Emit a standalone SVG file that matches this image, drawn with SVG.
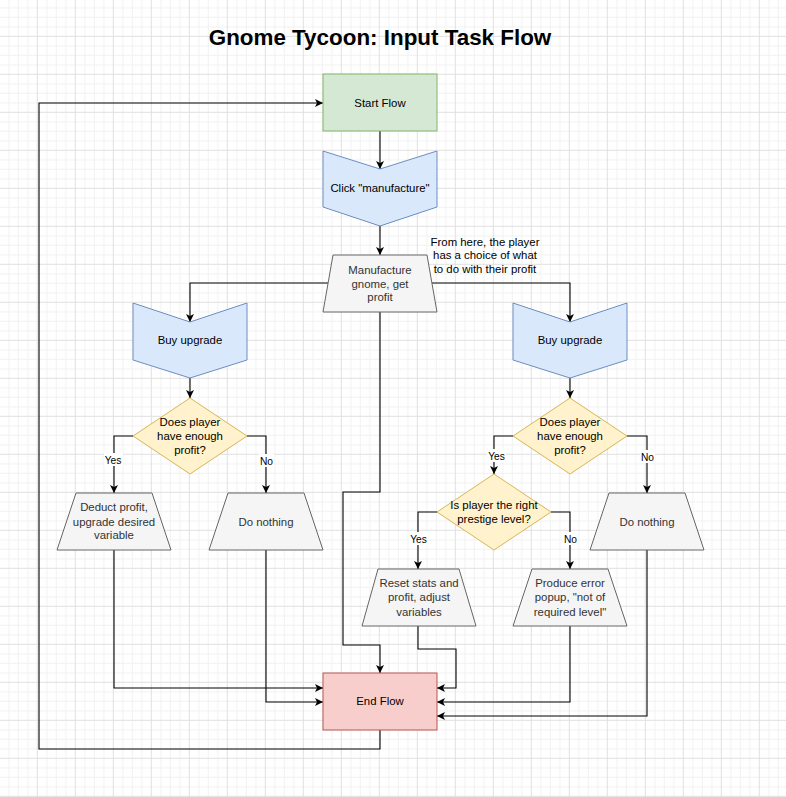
<svg xmlns="http://www.w3.org/2000/svg" width="786" height="797" viewBox="0 0 786 797">
<defs>
<pattern id="grid" patternUnits="userSpaceOnUse" x="36.8" y="35.8" width="38" height="38">
<rect x="9.5" y="0" width="1" height="38" fill="#f1f1f1"/>
<rect x="19" y="0" width="1" height="38" fill="#f1f1f1"/>
<rect x="28.5" y="0" width="1" height="38" fill="#f1f1f1"/>
<rect x="0" y="9.5" width="38" height="1" fill="#f1f1f1"/>
<rect x="0" y="19" width="38" height="1" fill="#f1f1f1"/>
<rect x="0" y="28.5" width="38" height="1" fill="#f1f1f1"/>
<rect x="0" y="0" width="1" height="38" fill="#e0e0e0"/>
<rect x="0" y="0" width="38" height="1" fill="#e0e0e0"/>
</pattern>
<marker id="arr" markerUnits="userSpaceOnUse" markerWidth="10" markerHeight="10" refX="8" refY="4" orient="auto">
<path d="M0,0 L8,4 L0,8 L2,4 Z" fill="#000"/>
</marker>
</defs>
<style>
.t{font-family:"Liberation Sans",Arial,sans-serif;font-size:11.4px;text-anchor:middle;fill:#000}
.g{fill:#333333}
.lbl{font-family:"Liberation Sans",Arial,sans-serif;font-size:10.2px;text-anchor:middle;fill:#000}
.start{fill:#d5e8d4;stroke:#82b366;stroke-width:1}
.blue{fill:#dae8fc;stroke:#6c8ebf;stroke-width:1}
.gray{fill:#f5f5f5;stroke:#666666;stroke-width:1}
.dia{fill:#fff2cc;stroke:#d6b656;stroke-width:1}
.end{fill:#f8cecc;stroke:#b85450;stroke-width:1}
.e{fill:none;stroke:#000;stroke-width:1.1;marker-end:url(#arr)}
</style>
<rect width="786" height="797" fill="#fff"/>
<rect width="786" height="797" fill="url(#grid)"/>
<text x="380" y="45" style="font-family:'Liberation Sans',Arial,sans-serif;font-size:22.4px;font-weight:bold;text-anchor:middle">Gnome Tycoon: Input Task Flow</text>

<g id="connectors">
<path class="e" d="M380 131 V169"/>
<path class="e" d="M380 226 V255"/>
<path class="e" d="M328 283 H190 V322"/>
<path class="e" d="M432 283 H570 V322"/>
<path class="e" d="M380 312 V492 H343 V645 H380 V673"/>
<path class="e" d="M190 378 V398"/>
<path class="e" d="M570 378 V398"/>
<path class="e" d="M133 436 H114 V493"/>
<path class="e" d="M247 436 H266 V493"/>
<path class="e" d="M513 436 H494 V474"/>
<path class="e" d="M627 436 H647 V493"/>
<path class="e" d="M437 512 H418 V569"/>
<path class="e" d="M551 512 H570 V569"/>
<path class="e" d="M114 550 V688 H323"/>
<path class="e" d="M266 550 V702 H323"/>
<path class="e" d="M418 626 V649 H456 V688 H437"/>
<path class="e" d="M570 626 V702 H437"/>
<path class="e" d="M647 550 V716 H437"/>
<path class="e" d="M380 730 V749 H39 V103 H323"/>
<g id="edge-labels">
<rect x="104" y="453" width="19" height="13" fill="#fff"/>
<text class="lbl" x="113" y="463.5">Yes</text>
<rect x="259" y="454" width="15" height="13" fill="#fff"/>
<text class="lbl" x="266.5" y="464.5">No</text>
<rect x="487" y="449" width="19" height="13" fill="#fff"/>
<text class="lbl" x="496.5" y="459.5">Yes</text>
<rect x="640" y="450" width="15" height="13" fill="#fff"/>
<text class="lbl" x="647.5" y="460.5">No</text>
<rect x="409" y="532" width="19" height="13" fill="#fff"/>
<text class="lbl" x="418.5" y="542.5">Yes</text>
<rect x="563" y="532" width="15" height="13" fill="#fff"/>
<text class="lbl" x="570.5" y="542.5">No</text>
</g>
</g>

<g id="start">
<rect class="start" x="323" y="74" width="114" height="57"/>
<text class="t" x="380" y="107">Start Flow</text>
</g>
<g id="click">
<polygon class="blue" points="323,151 380,169 437,151 437,207 380,226 323,207"/>
<text class="t" x="380" y="192">Click "manufacture"</text>
</g>
<g id="manufacture">
<polygon class="gray" points="333,255 427,255 437,312 323,312"/>
<text class="t g" x="380" y="274">Manufacture</text>
<text class="t g" x="380" y="287.7">gnome, get</text>
<text class="t g" x="380" y="301.4">profit</text>
</g>
<g id="note">
<text class="t" x="485" y="245.5">From here, the player</text>
<text class="t" x="485" y="259.2">has a choice of what</text>
<text class="t" x="485" y="272.9">to do with their profit</text>
</g>
<g id="buy-left">
<polygon class="blue" points="133,303 190,322 247,303 247,360 190,378 133,360"/>
<text class="t" x="190" y="344">Buy upgrade</text>
</g>
<g id="buy-right">
<polygon class="blue" points="513,303 570,322 627,303 627,360 570,378 513,360"/>
<text class="t" x="570" y="344">Buy upgrade</text>
</g>
<g id="check-left">
<polygon class="dia" points="190,398 247,436 190,474 133,436"/>
<text class="t" x="190" y="426.3">Does player</text>
<text class="t" x="190" y="440">have enough</text>
<text class="t" x="190" y="453.7">profit?</text>
</g>
<g id="check-right">
<polygon class="dia" points="570,398 627,436 570,474 513,436"/>
<text class="t" x="570" y="426.3">Does player</text>
<text class="t" x="570" y="440">have enough</text>
<text class="t" x="570" y="453.7">profit?</text>
</g>
<g id="prestige">
<polygon class="dia" points="494,474 551,512 494,550 437,512"/>
<text class="t" x="494" y="508.5">Is player the right</text>
<text class="t" x="494" y="523">prestige level?</text>
</g>
<g id="deduct">
<polygon class="gray" points="76,493 152,493 171,550 57,550"/>
<text class="t g" x="114" y="510.8">Deduct profit,</text>
<text class="t g" x="114" y="525.5">upgrade desired</text>
<text class="t g" x="114" y="539.2">variable</text>
</g>
<g id="nothing-left">
<polygon class="gray" points="228,493 304,493 323,550 209,550"/>
<text class="t g" x="266" y="525.5">Do nothing</text>
</g>
<g id="reset">
<polygon class="gray" points="378,569 459,569 476,626 362,626"/>
<text class="t g" x="419" y="587.3">Reset stats and</text>
<text class="t g" x="419" y="601.3">profit, adjust</text>
<text class="t g" x="419" y="615.5">variables</text>
</g>
<g id="error">
<polygon class="gray" points="532,569 608,569 627,626 513,626"/>
<text class="t g" x="570" y="587.3">Produce error</text>
<text class="t g" x="570" y="601.3">popup, "not of</text>
<text class="t g" x="570" y="615.5">required level"</text>
</g>
<g id="nothing-right">
<polygon class="gray" points="609,493 685,493 704,550 590,550"/>
<text class="t g" x="647" y="525.5">Do nothing</text>
</g>
<g id="end">
<rect class="end" x="323" y="673" width="114" height="57"/>
<text class="t" x="380" y="705">End Flow</text>
</g>
</svg>
